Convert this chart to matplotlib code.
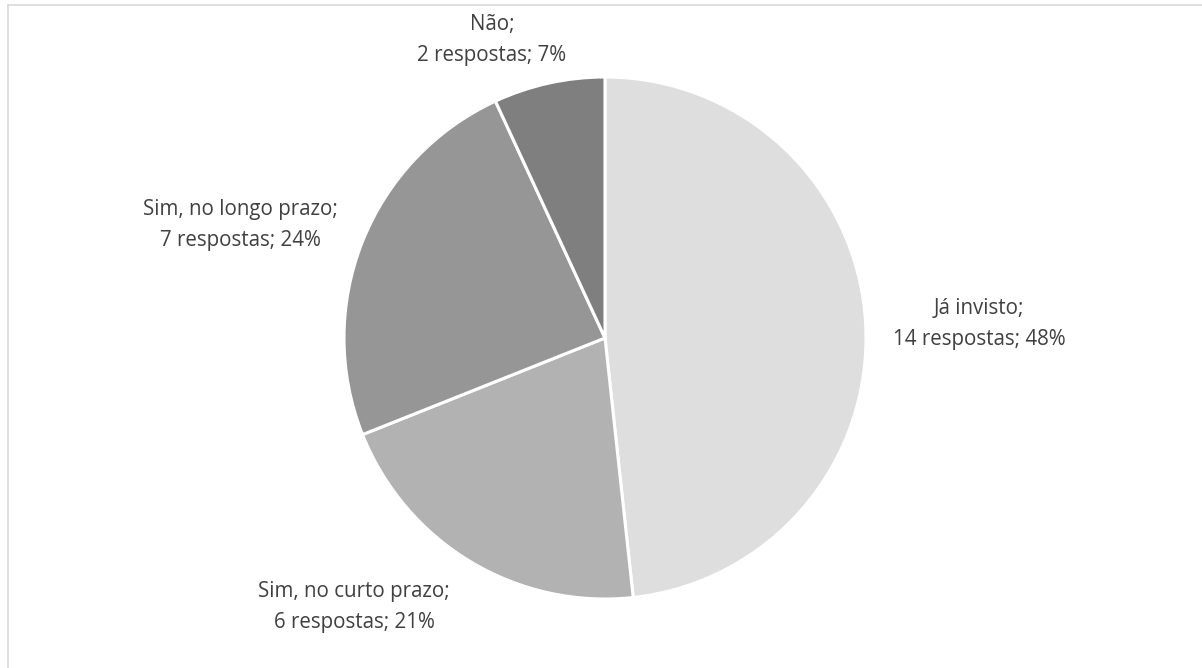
import matplotlib.pyplot as plt
from matplotlib.lines import Line2D

plt.rcParams['font.family'] = ['Open Sans', 'DejaVu Sans']

categories = ['Já invisto', 'Sim, no curto prazo', 'Sim, no longo prazo', 'Não']
respostas = [14, 6, 7, 2]
percent = [48, 21, 24, 7]
colors = ['#dedede', '#b2b2b2', '#969696', '#7f7f7f']

W, H = 1202, 668
fig = plt.figure(figsize=(W / 100, H / 100), dpi=100)
ax = fig.add_axes([0, 0, 1, 1])

cx, cy, r = 605, H - 338, 261
ax.pie(respostas, colors=colors, startangle=90, counterclock=False,
       center=(cx, cy), radius=r, frame=True,
       wedgeprops=dict(edgecolor='white', linewidth=2.2))
ax.set_xlim(0, W)
ax.set_ylim(0, H)
ax.set_aspect('equal')
ax.axis('off')

# label centres in pixel coordinates (top-left origin)
label_pos = [(979, 324), (354, 607), (240, 225), (492, 40)]
for cat, n, p, (x, y) in zip(categories, respostas, percent, label_pos):
    ax.text(x, H - y, f'{cat};\n{n} respostas; {p}%', ha='center', va='center',
            fontsize=14.8, color='#404040', linespacing=1.62)

# chart area border (only top and left edges fall inside the image)
fig.add_artist(Line2D([8 / W, 1], [1 - 5 / H, 1 - 5 / H], color='#d9d9d9', lw=1.2))
fig.add_artist(Line2D([8 / W, 8 / W], [0, 1 - 5 / H], color='#d9d9d9', lw=1.2))

fig.savefig('out.png', dpi=100, facecolor='white')
